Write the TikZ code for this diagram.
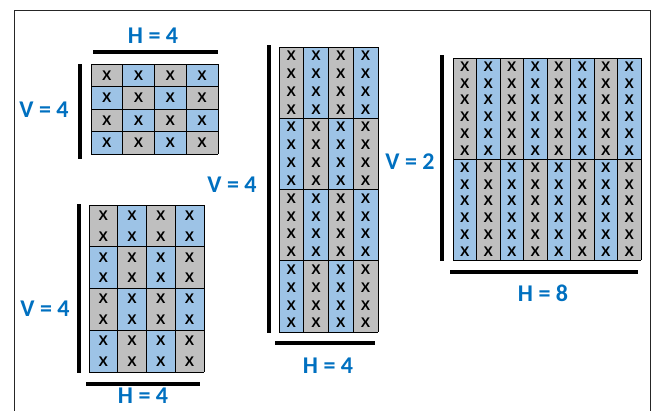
\documentclass[tikz,border=0pt]{standalone}
\usepackage{fontspec}
\setmainfont{Carlito}
\newfontfamily\markfont[BoldFont={Liberation Sans Bold}]{Liberation Sans}
\definecolor{cellblue}{HTML}{9DC3E6}
\definecolor{cellgray}{HTML}{BFBFBF}
\definecolor{labelblue}{HTML}{0070C0}
\tikzset{
	bar/.style={line width=3.5pt},
	cellline/.style={line width=0.7pt},
	dimlabel/.style={font=\fontsize{24}{24}\selectfont\bfseries, text=labelblue, inner sep=0pt},
	xmark/.style={font=\markfont\bfseries\fontsize{14}{14}\selectfont, inner sep=0pt}
}
% #1 name, #2 left, #3 top, #4 columns, #5 rows, #6 cell width, #7 cell height, #8 marks per cell
\newcommand{\xgrid}[8]{
	\foreach \cc in {1,...,#4}
		\foreach \rr in {1,...,#5}{
			\pgfmathtruncatemacro{\parity}{mod(\cc+\rr,2)}
			\ifnum\parity=0 \def\cellcol{cellgray}\else\def\cellcol{cellblue}\fi
			\fill[\cellcol] ({#2+(\cc-1)*#6},{#3+(\rr-1)*#7}) rectangle ++(#6,#7);
			\foreach \k in {1,...,#8}
				\node[xmark] (#1-\cc-\rr-\k) at ({#2+(\cc-0.5)*#6},{#3+(\rr-1)*#7+(\k-0.5)*#7/#8}) {X};
		}
	\foreach \cc in {0,...,#4}
		\draw[cellline] ({#2+\cc*#6},#3) -- ++(0,{#5*#7});
	\foreach \rr in {0,...,#5}
		\draw[cellline] (#2,{#3+\rr*#7}) -- ++({#4*#6},0);
}

\begin{document}
\begin{tikzpicture}[x=1pt, y=-1pt]
	\useasboundingbox (0,0) rectangle (655,410);
	\draw[line width=1pt, black!85] (14,10) rectangle (650,430);

	% 4 x 4, one mark each
	\xgrid{ga}{91}{64}{4}{4}{31.75}{22.5}{1}
	\draw[bar] (93,52) -- (218,52);
	\node[dimlabel] (ha) at (153,36) {H = 4};
	\draw[bar] (80,64) -- (80,159);
	\node[dimlabel] (va) at (44,110) {V = 4};

	% 4 x 4, two marks each
	\xgrid{gb}{89}{205}{4}{4}{28.75}{41.75}{2}
	\draw[bar] (86,384) -- (200,384);
	\node[dimlabel] (hb) at (143,396) {H = 4};
	\draw[bar] (79,204) -- (79,373);
	\node[dimlabel] (vb) at (45,309) {V = 4};

	% 4 x 4, four marks each
	\xgrid{gc}{279}{47}{4}{4}{24.75}{71.25}{4}
	\draw[bar] (275,343) -- (375,343);
	\node[dimlabel] (hc) at (328,366) {H = 4};
	\draw[bar] (269,45) -- (269,333);
	\node[dimlabel] (vc) at (232,185) {V = 4};

	% 8 x 2, six marks each
	\xgrid{gd}{453}{58}{8}{2}{23.5}{101}{6}
	\draw[bar] (450,272) -- (638,272);
	\node[dimlabel] (hd) at (543,293) {H = 8};
	\draw[bar] (442,55) -- (442,261);
	\node[dimlabel] (vd) at (410,162) {V = 2};
\end{tikzpicture}
\end{document}
